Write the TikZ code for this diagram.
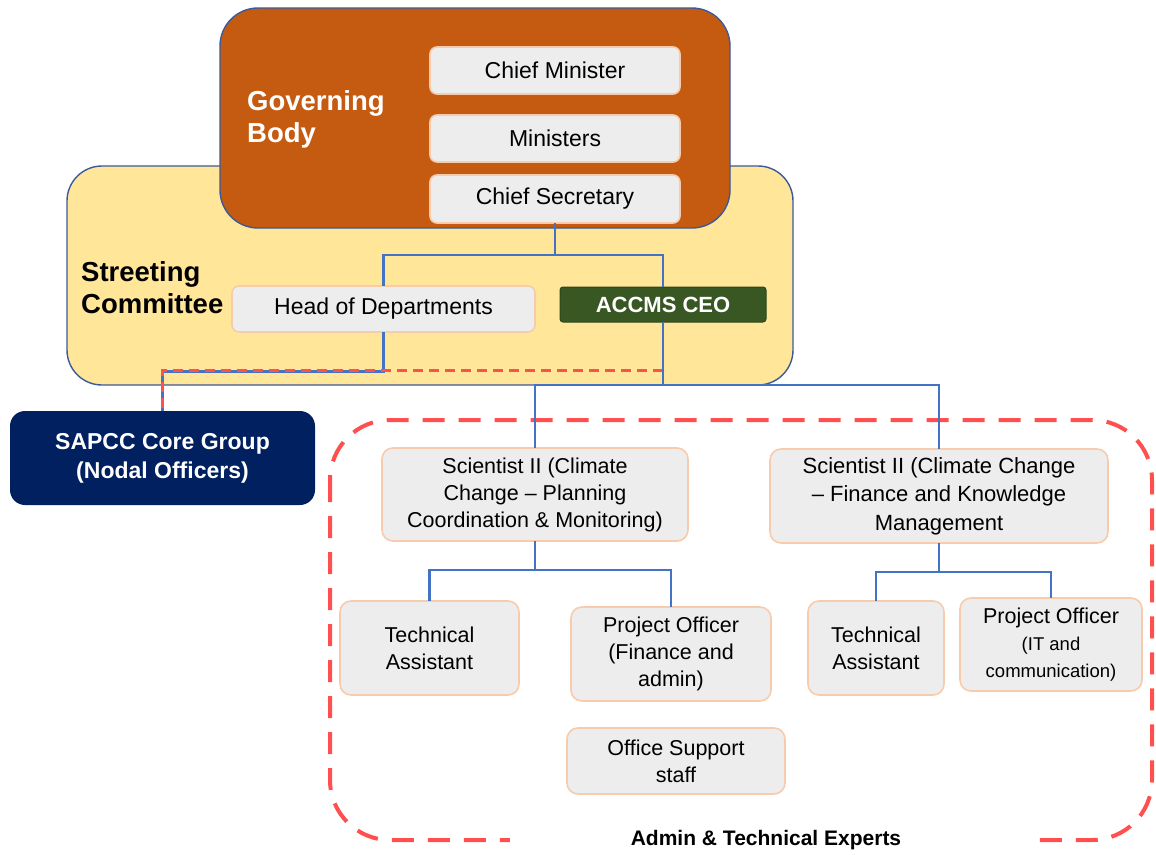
\documentclass[tikz,border=0pt]{standalone}
\usepackage{fontspec}
\setmainfont{Liberation Sans}
\definecolor{orangeb}{HTML}{C55A11}
\definecolor{yellowb}{HTML}{FFE699}
\definecolor{bigborder}{HTML}{3C5A9A}
\definecolor{conncol}{HTML}{4472C4}
\definecolor{greenb}{HTML}{385723}
\definecolor{navyb}{HTML}{002060}
\definecolor{reddash}{HTML}{FF4F4F}
\definecolor{boxgray}{HTML}{EDEDED}
\definecolor{peachb}{HTML}{F8CBAD}
\tikzset{
  gbox/.style={draw=peachb, fill=boxgray, line width=1.6pt, rounded corners=11pt,
    inner sep=0pt, outer sep=0pt, align=center, font=\fontsize{21.5}{27}\selectfont},
  topbox/.style={gbox, rounded corners=7pt, font=\fontsize{23}{28}\selectfont},
  conn/.style={draw=conncol, line width=2.4pt},
  reddashed/.style={draw=reddash, line width=3pt, dash pattern=on 10pt off 6pt},
  biglabel/.style={text=white, font=\bfseries\fontsize{27.5}{32}\selectfont, align=left, inner sep=0pt}
}
\begin{document}
\begin{tikzpicture}[x=1pt,y=-1pt]
\useasboundingbox[fill=white] (0,0) rectangle (1156,854);
% big containers
\draw[fill=yellowb, draw=bigborder, line width=1.4pt, rounded corners=35pt] (67,166) rectangle (793,385);
\draw[fill=orangeb, draw=bigborder, line width=1.4pt, rounded corners=38pt] (220,8) rectangle (730,228);
\node[biglabel, anchor=west] (gblabel) at (247,119) {Governing\\Body};
\node[biglabel, text=black, anchor=west] (sclabel) at (81,288) {Streeting\\Committee};
% top boxes
\node[topbox, minimum width=250pt, minimum height=47pt] (cm) at (555,70.5) {Chief Minister};
\node[topbox, minimum width=250pt, minimum height=47pt] (mn) at (555,138.5) {Ministers};
\node[topbox, minimum width=250pt, minimum height=48pt] (cs) at (555,199) {Chief Secretary};
\node[topbox, minimum width=303pt, minimum height=46pt] (hod) at (383.5,309) {Head of Departments};
\node[fill=greenb, draw=greenb!80!black, line width=1pt, rounded corners=3pt, inner sep=0pt, outer sep=0pt,
  minimum width=206pt, minimum height=35pt, text=white, font=\bfseries\fontsize{22}{26}\selectfont] (ceo) at (663,304.5) {ACCMS CEO};
\node[fill=navyb, rounded corners=15pt, inner sep=0pt, outer sep=0pt, minimum width=305pt, minimum height=94pt,
  text=white, align=center, font=\bfseries\fontsize{23}{29}\selectfont] (sapcc) at (162.5,458) {SAPCC Core Group\\(Nodal Officers)};
% big dashed group
\draw[draw=reddash, line width=4pt, dash pattern=on 22pt off 14pt, rounded corners=60pt] (330,420) rectangle (1152,840);
\fill[white] (510,826) rectangle (1030,854);
\node[font=\bfseries\fontsize{21}{25}\selectfont, inner sep=0pt] (grouplabel) at (766,840) {Admin \& Technical Experts};
% staff boxes
\node[gbox, minimum width=306pt, minimum height=93pt] (sci1) at (535,494.5) {Scientist II (Climate\\Change -- Planning\\Coordination \& Monitoring)};
\node[gbox, minimum width=338pt, minimum height=94pt, font=\fontsize{22}{28.5}\selectfont] (sci2) at (939,496) {Scientist II (Climate Change\\-- Finance and Knowledge\\Management};
\node[gbox, minimum width=179pt, minimum height=94pt] (ta1) at (429.5,648) {Technical\\Assistant};
\node[gbox, minimum width=200pt, minimum height=94pt] (po1) at (671,654) {Project Officer\\(Finance and\\admin)};
\node[gbox, minimum width=136pt, minimum height=94pt] (ta2) at (876,648) {Technical\\Assistant};
\node[gbox, minimum width=182pt, minimum height=93pt] (po2) at (1051,644.5) {Project Officer\\{\fontsize{18.5}{24}\selectfont (IT and}\\{\fontsize{18.5}{24}\selectfont communication)}};
\node[gbox, minimum width=218pt, minimum height=66pt] (oss) at (676,761) {Office Support\\staff};
% connectors
\coordinate (j1) at (555,255);
\draw[conn] (cs.south) -- (j1);
\draw[conn] (j1) -| (hod.north);
\draw[conn] (j1) -| (ceo.north);
\coordinate (j2) at (162.5,371.5);
\coordinate (j3) at (663,370);
\draw[conn] (hod.south) |- (j2) -- (sapcc.north);
\draw[reddashed] (j3) -- (j3 -| j2) -- (sapcc.north);
\coordinate (j4) at (663,385);
\draw[conn] (ceo.south) -- (j4);
\draw[conn] (j4) -| (sci1.north);
\draw[conn] (j4) -| (sci2.north);
\coordinate (j5) at (535,570);
\draw[conn] (sci1.south) -- (j5);
\draw[conn] (j5) -| (ta1.north);
\draw[conn] (j5) -| (po1.north);
\coordinate (j6) at (939,572);
\draw[conn] (sci2.south) -- (j6);
\draw[conn] (j6) -| (ta2.north);
\draw[conn] (j6) -| (po2.north);
\end{tikzpicture}
\end{document}
